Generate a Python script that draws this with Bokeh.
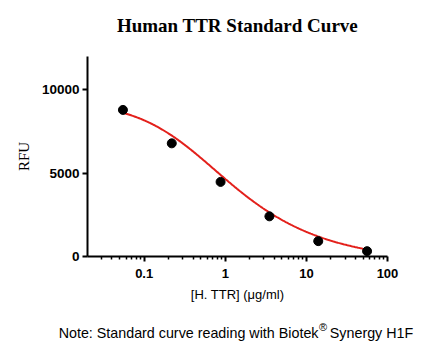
import numpy as np
from bokeh.plotting import figure
from bokeh.layouts import column
from bokeh.models import (Range1d, FixedTicker, BasicTickFormatter, Label)
from bokeh.embed import file_html
from bokeh.resources import INLINE

# ---- data ----
conc = [0.0547, 0.2188, 0.875, 3.5, 14.0, 56.0]          # [H. TTR] (ug/ml)
rfu = [8795, 6790, 4476, 2410, 922, 319]                 # RFU
x_major = [0.1, 1, 10, 100]
x_minor = [0.03, 0.04, 0.05, 0.06, 0.07, 0.08, 0.09,
           0.2, 0.3, 0.4, 0.5, 0.6, 0.7, 0.8, 0.9,
           2, 3, 4, 5, 6, 7, 8, 9,
           20, 30, 40, 50, 60, 70, 80, 90]
y_major = [0, 5000, 10000]

# 5-parameter logistic fit parameters
fit_top = 9300
fit_bottom = -400
fit_ec50 = 0.365
fit_hill = 0.98
fit_asym = 0.5

title_text = "Human TTR Standard Curve"
x_label = "[H. TTR] (\u03bcg/ml)"
y_label = "RFU"
note_a = "Note: Standard curve reading with Biotek"
note_reg = "\u00ae"
note_b = "Synergy H1F"

W = 433
TOP_H, MAIN_H, NOTE_H = 45, 271, 40   # stacked: 0-45, 45-316, 316-356
SHIFT = 6  # baseline correction


def text_strip(height):
    f = figure(width=W, height=height, x_range=Range1d(0, W), y_range=Range1d(0, height),
               output_backend="svg", toolbar_location=None,
               x_axis_location=None, y_axis_location=None,
               min_border=0, min_border_left=0, min_border_right=0,
               min_border_top=0, min_border_bottom=0, frame_align=False)
    f.outline_line_color = None
    f.xgrid.visible = False
    f.ygrid.visible = False
    f.background_fill_color = "white"
    f.border_fill_color = "white"
    return f


# ---- title strip (canvas y 0..45) ----
top = text_strip(TOP_H)
top.add_layout(Label(x=237, y=TOP_H - 31 + SHIFT, x_units="screen", y_units="screen",
                     text=title_text, text_align="center", text_baseline="alphabetic",
                     text_font="Liberation Serif", text_font_style="bold",
                     text_font_size="19px", text_color="black"))

# ---- main chart (canvas y 45..316) ----
FL, FR, FT, FB = 87, 387, 56, 256
y0 = TOP_H
p = figure(width=W, height=MAIN_H, x_axis_type="log",
           x_range=Range1d(0.02, 100), y_range=Range1d(0, 12000),
           output_backend="svg", toolbar_location=None,
           min_border_left=FL, min_border_right=W - FR,
           min_border_top=FT - y0, min_border_bottom=(y0 + MAIN_H) - FB,
           frame_align=False)
p.outline_line_color = None
p.xgrid.visible = False
p.ygrid.visible = False
p.background_fill_color = "white"
p.border_fill_color = "white"

xs = np.logspace(np.log10(min(conc)), np.log10(max(conc)), 300)
ys = fit_bottom + (fit_top - fit_bottom) / (1 + (xs / fit_ec50) ** fit_hill) ** fit_asym
p.line(xs, ys, line_color="#e3201b", line_width=2)
p.scatter(conc, rfu, size=9, color="black")

xa = p.xaxis[0]
xa.ticker = FixedTicker(ticks=x_major, minor_ticks=x_minor)
xa.formatter = BasicTickFormatter(use_scientific=False)
xa.axis_line_width = 2
xa.major_tick_line_width = 2
xa.minor_tick_line_width = 1.5
xa.major_tick_in = 0
xa.major_tick_out = 5
xa.minor_tick_in = 0
xa.minor_tick_out = 3
xa.major_label_standoff = 7
xa.major_label_text_font = "Liberation Sans"
xa.major_label_text_font_style = "bold"
xa.major_label_text_font_size = "13px"
xa.major_label_text_color = "black"
xa.axis_label = x_label
xa.axis_label_text_font = "Liberation Sans"
xa.axis_label_text_font_style = "normal"
xa.axis_label_text_font_size = "13px"
xa.axis_label_text_color = "black"
xa.axis_label_standoff = 6

ya = p.yaxis[0]
ya.ticker = FixedTicker(ticks=y_major, minor_ticks=[])
ya.formatter = BasicTickFormatter(use_scientific=False)
ya.axis_line_width = 2
ya.major_tick_line_width = 2
ya.major_tick_in = 0
ya.major_tick_out = 5
ya.minor_tick_in = 0
ya.minor_tick_out = 0
ya.major_label_standoff = 3
ya.major_label_text_font = "Liberation Sans"
ya.major_label_text_font_style = "bold"
ya.major_label_text_font_size = "13.5px"
ya.major_label_text_color = "black"
ya.axis_label = y_label
ya.axis_label_text_font = "Liberation Serif"
ya.axis_label_text_font_style = "normal"
ya.axis_label_text_font_size = "15px"
ya.axis_label_text_color = "black"
ya.axis_label_standoff = 7

# ---- note strip (canvas y 316..356) ----
note = text_strip(NOTE_H)
nb = 316 + NOTE_H  # canvas y of strip bottom
note.add_layout(Label(x=318, y=nb - 338 + SHIFT, x_units="screen", y_units="screen",
                      text=note_a, text_align="right", text_baseline="alphabetic",
                      text_font="Liberation Sans", text_font_size="14.3px", text_color="black"))
note.add_layout(Label(x=318.5, y=nb - 332 + SHIFT, x_units="screen", y_units="screen",
                      text=note_reg, text_align="left", text_baseline="alphabetic",
                      text_font="Liberation Sans", text_font_size="11px", text_color="black"))
note.add_layout(Label(x=329.3, y=nb - 338 + SHIFT, x_units="screen", y_units="screen",
                      text=note_b, text_align="left", text_baseline="alphabetic",
                      text_font="Liberation Sans", text_font_size="14.3px", text_color="black"))

layout = column(top, p, note, spacing=0)
open("out.html", "w").write(file_html(layout, INLINE))
